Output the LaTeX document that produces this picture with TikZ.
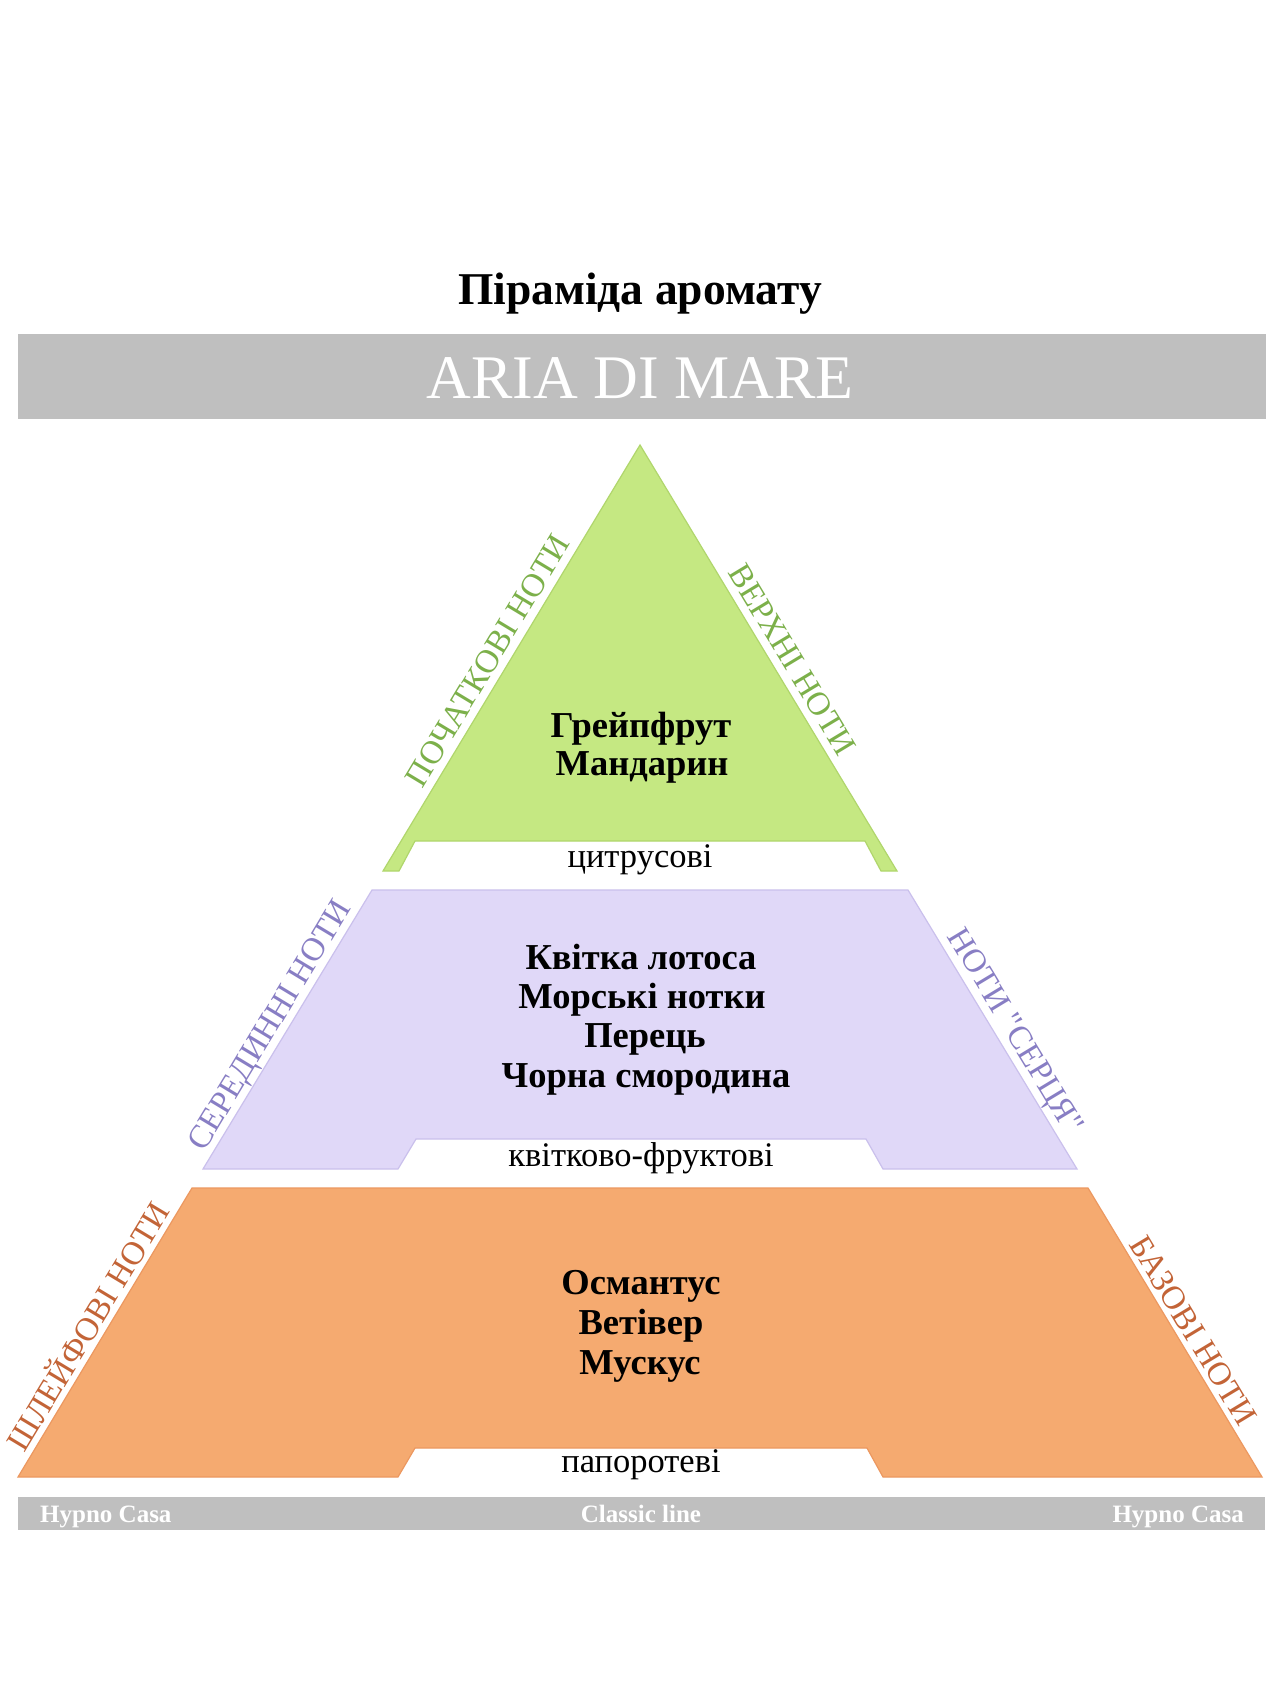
\documentclass[tikz,border=0pt]{standalone}
\usepackage{fontspec}
\setmainfont{Liberation Serif}
\newfontfamily\plainq{Liberation Serif}
\definecolor{bargray}{RGB}{191,191,191}
\definecolor{topfill}{RGB}{197,232,130}
\definecolor{topedge}{RGB}{176,214,108}
\definecolor{toplab}{RGB}{124,176,74}
\definecolor{midfill}{RGB}{224,216,248}
\definecolor{midedge}{RGB}{202,192,236}
\definecolor{midlab}{RGB}{136,126,196}
\definecolor{basefill}{RGB}{245,170,112}
\definecolor{baseedge}{RGB}{236,152,96}
\definecolor{baselab}{RGB}{195,100,55}
\begin{document}
\begin{tikzpicture}[x=1pt,y=-1pt,
  tier/.style={line width=1.2pt, line join=miter},
  item/.style={font=\fontsize{36.5}{40}\selectfont\bfseries, anchor=base, inner sep=0pt},
  sub/.style={font=\fontsize{34.5}{38}\selectfont, anchor=base, inner sep=0pt},
  side/.style={font=\fontsize{33}{36}\selectfont, anchor=base, inner sep=0pt},
  foot/.style={font=\fontsize{25}{28}\selectfont\bfseries, text=white, anchor=base, inner sep=0pt}]
\useasboundingbox[fill=white] (0,0) rectangle (1284,1700);

% title
\node[font=\fontsize{45.5}{50}\selectfont\bfseries, anchor=base, inner sep=0pt] (title) at (640,304) {Піраміда аромату};

% banner
\fill[bargray] (18,334) rectangle (1266,419);
\node[font=\fontsize{62}{66}\selectfont, text=white, anchor=base, inner sep=0pt] (name) at (640,398) {ARIA DI MARE};

% top tier
\path[tier, fill=topfill, draw=topedge] (640,445) -- (897,871) -- (881,871) -- (865,841) -- (415,841) -- (399,871) -- (383,871) -- cycle;
\node[item] (t1) at (641,737) {Грейпфрут};
\node[item] (t2) at (642,775) {Мандарин};
\node[sub] (tsub) at (640,867) {цитрусові};
\node[side, text=toplab, rotate=58.9] (tl) at (497,666) {ПОЧАТКОВІ НОТИ};
\node[side, text=toplab, rotate=-58.9] (tr) at (783,665) {ВЕРХНІ НОТИ};

% middle tier
\path[tier, fill=midfill, draw=midedge] (372,890) -- (908,890) -- (1077,1169) -- (883,1169) -- (866,1139) -- (416,1139) -- (398,1169) -- (203,1169) -- cycle;
\node[item] (m1) at (641,969) {Квітка лотоса};
\node[item] (m2) at (642,1008) {Морські нотки};
\node[item] (m3) at (645,1047) {Перець};
\node[item] (m4) at (646,1087) {Чорна смородина};
\node[sub] (msub) at (641,1166) {квітково-фруктові};
\node[side, text=midlab, rotate=58.9] (ml) at (278,1030) {СЕРЕДИННІ НОТИ};
\node[side, text=midlab, rotate=-58.9] (mr) at (1007,1036) {НОТИ {\plainq"}СЕРЦЯ{\plainq"}};

% base tier
\path[tier, fill=basefill, draw=baseedge] (192,1188) -- (1088,1188) -- (1262,1477) -- (883,1477) -- (867,1448) -- (415,1448) -- (398,1477) -- (18,1477) -- cycle;
\node[item] (b1) at (641,1294) {Османтус};
\node[item] (b2) at (641,1334) {Ветівер};
\node[item] (b3) at (640,1374) {Мускус};
\node[sub] (bsub) at (641,1472) {папоротеві};
\node[side, text=baselab, rotate=58.9] (bl) at (98,1332) {ШЛЕЙФОВІ НОТИ};
\node[side, text=baselab, rotate=-58.9] (br) at (1184,1336) {БАЗОВІ НОТИ};

% footer bar
\fill[bargray] (18,1497) rectangle (1265,1530);
\node[foot, anchor=base west] (f1) at (40,1522) {Hypno Casa};
\node[foot] (f2) at (641,1522) {Classic line};
\node[foot, anchor=base east] (f3) at (1244,1522) {Hypno Casa};
\end{tikzpicture}
\end{document}
